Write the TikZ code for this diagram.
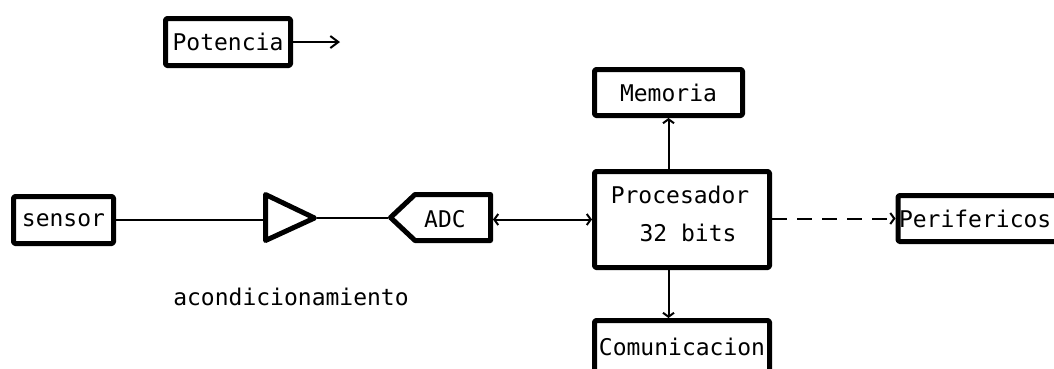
\documentclass[tikz,border=0pt]{standalone}
\usepackage{fontspec}
\setmainfont{DejaVu Sans Mono}
\usetikzlibrary{arrows.meta}
\newcommand\figfont{\fontsize{23}{40}\selectfont}
\begin{document}
\begin{tikzpicture}[x=1pt,y=-1pt,
  blk/.style={draw, line width=5pt, line join=round, rounded corners=1.5pt,
    inner sep=0pt, outer sep=2.5pt, font=\figfont},
  shp/.style={draw, line width=5pt, line join=round},
  lbl/.style={inner sep=0pt, font=\figfont},
  conn/.style={line width=2pt},
  arr/.style={conn, -{Straight Barb[length=4pt,width=11pt,line width=2pt]}},
  biarr/.style={conn, {Straight Barb[length=4pt,width=11pt,line width=2pt]}-{Straight Barb[length=4pt,width=11pt,line width=2pt]}},
  arrbig/.style={conn, -{Straight Barb[length=8pt,width=12pt,line width=2pt]}},
  dasharr/.style={arr, dash pattern=on 15pt off 10pt}
]
\useasboundingbox (0,0) rectangle (1054,368);
\clip (0,0) rectangle (1054,368);

% boxes
\node[blk, minimum width=125pt, minimum height=47pt] (pot) at (228,42) {Potencia};
\node[blk, minimum width=100pt, minimum height=47pt] (sensor) at (63.5,220) {sensor};
\node[blk, minimum width=148pt, minimum height=46pt] (mem) at (668.5,92.5) {Memoria};
\node[blk, minimum width=175pt, minimum height=96pt] (proc) at (682,219.5) {};
\node[lbl] (procA) at (680,195) {Procesador};
\node[lbl] (procB) at (688,233) {32 bits};
\node[blk, minimum width=175pt, minimum height=53pt] (com) at (682,347) {Comunicacion};
\node[blk, anchor=west, minimum height=46pt, inner xsep=1pt, text width=198pt, align=left] (peri) at (895.5,218.5) {Perifericos};

% amplifier triangle
\coordinate (ampin) at (263,218);
\coordinate (ampout) at (317,218);
\draw[shp] (265.5,194.5) -- (314.5,218) -- (265.5,240.5) -- cycle;
\node[lbl] (acond) at (291,297) {acondicionamiento};

% ADC
\coordinate (adcin) at (388,218);
\coordinate (adcout) at (493,218);
\draw[shp] (390.5,217.5) -- (415,194.5) -- (490.5,194.5) -- (490.5,240.5) -- (415,240.5) -- cycle;
\node[lbl] (adc) at (445,219) {ADC};

% power output
\coordinate (potout) at (340,42);

% connectors
\draw[arrbig] (pot.east) -- (potout);
\draw[conn] (sensor.east) -- (sensor.east -| ampin);
\draw[conn] (ampout) -- (adcin);
\draw[biarr] (proc.west -| adcout) -- (proc.west);
\draw[arr] (proc.north -| mem) -- (mem.south);
\draw[arr] (proc.south -| mem) -- (com.north -| mem);
\draw[dasharr] (proc.east |- peri.west) -- (peri.west);
\end{tikzpicture}
\end{document}
